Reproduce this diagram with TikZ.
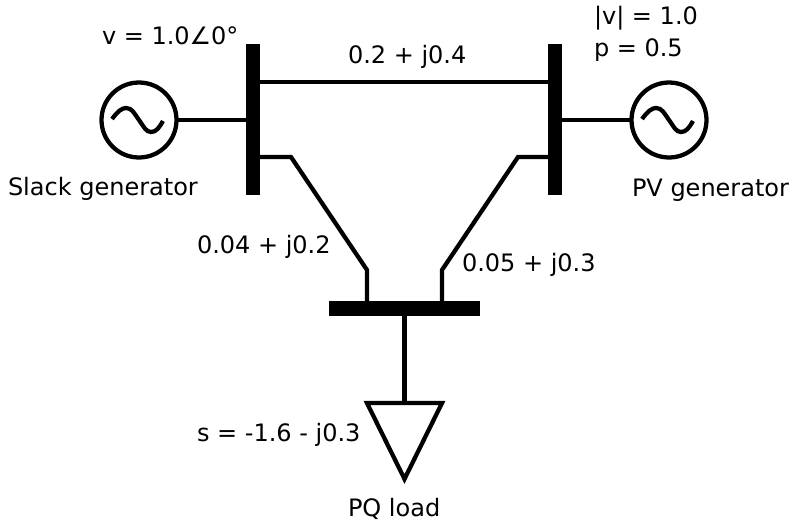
\documentclass[tikz,border=0pt]{standalone}
\usepackage{fontspec}
\setmainfont{DejaVu Sans}
\usetikzlibrary{calc}
\tikzset{
  busbar/.style={fill=black,draw=none,inner sep=0pt,outer sep=0pt},
  gen/.style={circle,draw=black,line width=3.2pt,fill=white,minimum size=56.25pt,inner sep=0pt,outer sep=0pt},
  wire/.style={draw=black,line width=3.2pt,line join=miter},
  lbl/.style={inner sep=0pt,outer sep=0pt,font=\fontsize{18pt}{21pt}\selectfont,text=black,anchor=base west},
}
\begin{document}
\begin{tikzpicture}[x=0.75pt,y=-0.75pt]
\useasboundingbox (0,0) rectangle (793,521);
% buses
\node[busbar,minimum width=10.5pt,minimum height=113.25pt] (busA) at (253,119.5) {};
\node[busbar,minimum width=10.5pt,minimum height=113.25pt] (busB) at (555,119.5) {};
\node[busbar,minimum width=113.25pt,minimum height=11.25pt] (busC) at (404.5,308.5) {};
% generators
\node[gen] (genA) at (139,120) {};
\node[gen] (genB) at (669,120) {};
% load
\coordinate (loadTL) at (367,403);
\coordinate (loadTR) at (442,403);
\coordinate (loadB) at (404.5,479);
\coordinate (loadT) at (404.5,403);
\draw[wire,line join=miter] (loadTL) -- (loadTR) -- (loadB) -- cycle;
% junction coordinates
\coordinate (a1) at (291,157);
\coordinate (a2) at (367,270);
\coordinate (b1) at (518,157);
\coordinate (b2) at (442,270);
% connectors
\draw[wire] (genA) -- (busA.west |- genA);
\draw[wire] (genB) -- (busB.east |- genB);
\draw[wire] (busA.east |- 0,82) -- (busB.west |- 0,82);
\draw[wire] (busA.east |- a1) -- (a1) -- (a2) -- (a2 |- busC.north);
\draw[wire] (busB.west |- b1) -- (b1) -- (b2) -- (b2 |- busC.north);
\draw[wire] (busC.south) -- (loadT);
% sine waves
\foreach \g in {genA,genB}{
  \draw[wire] ($(\g)+(-27,-1)$) .. controls ($(\g)+(-21,-9)$) and ($(\g)+(-17,-12)$) .. ($(\g)+(-13,-12)$)
     .. controls ($(\g)+(-7,-12)$) and ($(\g)+(-5,-7)$) .. ($(\g)+(0,0)$)
     .. controls ($(\g)+(5,7)$) and ($(\g)+(7,12)$) .. ($(\g)+(12,12)$)
     .. controls ($(\g)+(17,12)$) and ($(\g)+(20,8)$) .. ($(\g)+(24,1)$);
}
% labels
\node[lbl] (t1) at (102,44) {v = 1.0∠0°};
\node[lbl] (t2) at (8,195) {Slack generator};
\node[lbl] (t3) at (348,63) {0.2 + j0.4};
\node[lbl] (t4) at (594,25) {|v| = 1.0};
\node[lbl] (t5) at (594,56) {p = 0.5};
\node[lbl] (t6) at (632,196) {PV generator};
\node[lbl] (t7) at (197,253) {0.04 + j0.2};
\node[lbl] (t8) at (462,271) {0.05 + j0.3};
\node[lbl] (t9) at (197,441) {s = -1.6 - j0.3};
\node[lbl] (t10) at (348,516) {PQ load};
\end{tikzpicture}
\end{document}
